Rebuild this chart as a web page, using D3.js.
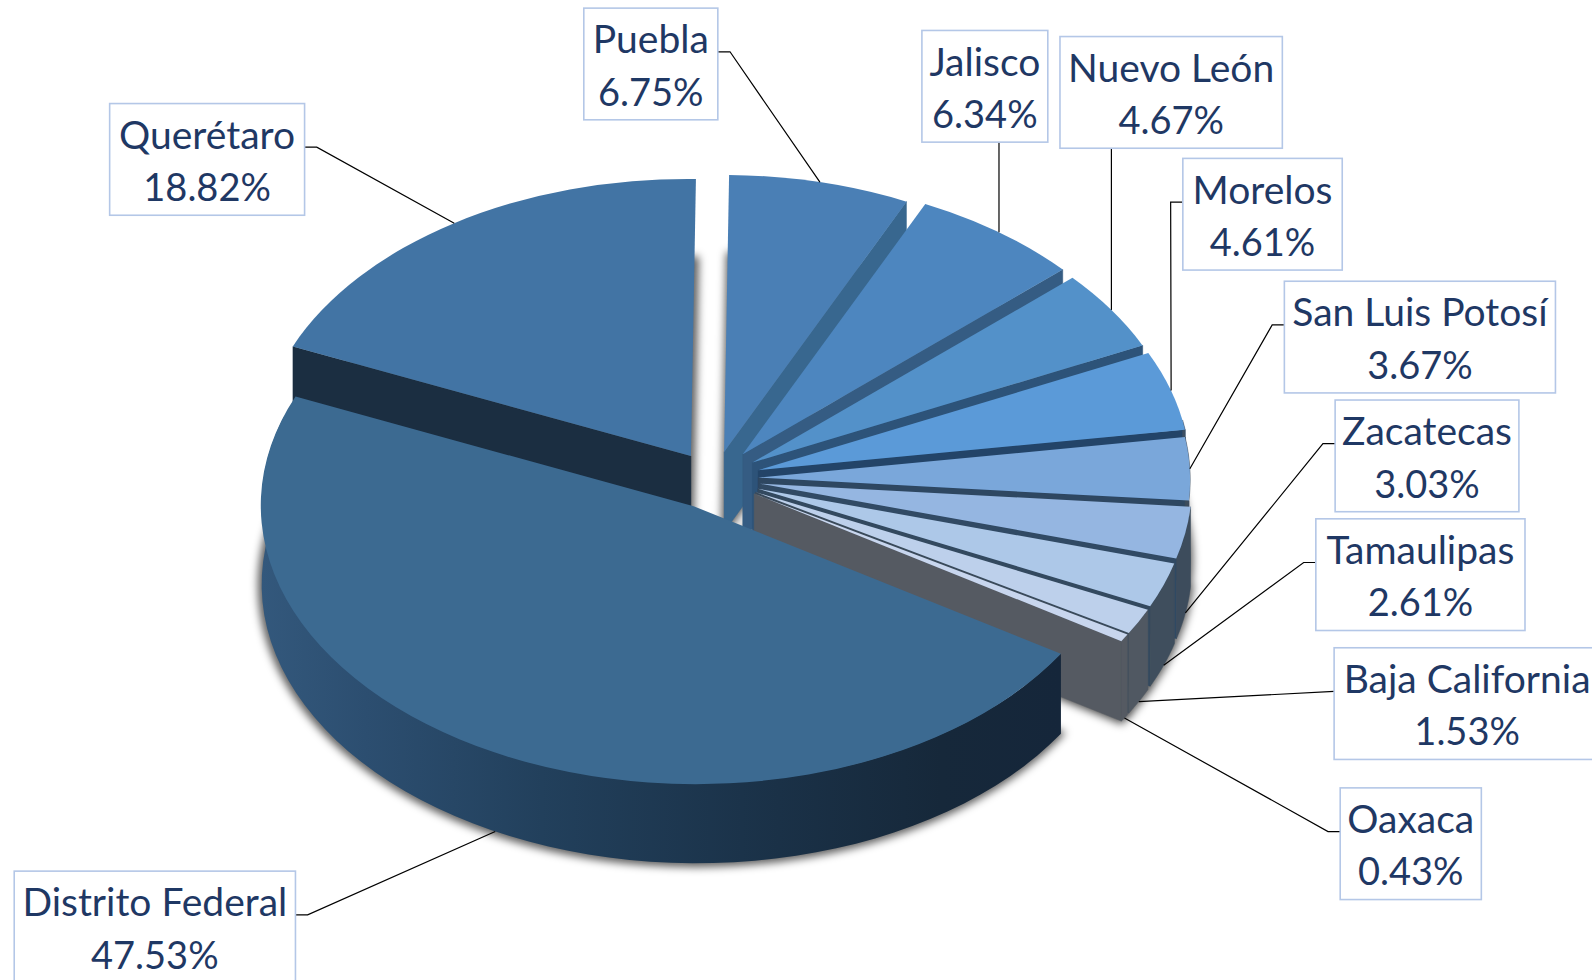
<!DOCTYPE html>
<html><head><meta charset="utf-8">
<script src="https://cdn.jsdelivr.net/npm/d3@7"></script>
<style>html,body{margin:0;background:#fff;overflow:hidden}svg{display:block}</style>
</head><body><svg id="c" width="1592" height="980"></svg>
<script>
// ---- data ----
const categories = ["Puebla","Jalisco","Nuevo León","Morelos","San Luis Potosí","Zacatecas","Tamaulipas","Baja California","Oaxaca","Distrito Federal","Querétaro"];
const shares = [6.75,6.34,4.67,4.61,3.67,3.03,2.61,1.53,0.43,47.53,18.82];
const explode = [0.10,0.11,0.105,0.105,0.10,0.105,0.105,0.105,0.105,0.11,0.10];
const topColors = ["#4a7fb5","#4d86bf","#5391c9","#5b9ad8","#7aa7da","#95b6e1","#adc8e8","#bdd0eb","#c8d6ee","#3c6a91","#4274a4"];
const sideColors = ["#38678f","#355c83","#2d5379","#234468","#2e4761","#314a64","#33495f","#3a4a5a","#555a62","#2a4a6c","#1b2e41"];
const rimColors = ["#3a6a92","#355c83","#2d5379","#3d4f62","#3d4c5c","#3d4c5c","#3f4e5d","#505862","#555a62","#2a4a6c","#1b2e41"];
// ---- layout (label boxes: left, top, right, bottom in the 1568-wide view; side the leader leaves from) ----
const k = 1592/1568;
const boxes = [[575,8,707,118,"r"],[908,30,1032,140,"b"],[1044,36,1263,146,"b"],[1165,156,1322,266,"l"],[1265,277,1532,387,"l"],[1315,394,1496,504,"l"],[1296,511,1502,621,"l"],[1314,638,1580,748,"n"],[1320,776,1459,886,"l"],[14,858,291,968,"r"],[108,102,300,212,"r"]];
const cx=715, cy=479, rx=432, ry=277, shX=-5, shY=5, depth=80;

const svg = d3.select("#c"), defs = svg.append("defs");
const blur = defs.append("filter").attr("id","sh").attr("x","-10%").attr("y","-10%").attr("width","120%").attr("height","120%");
blur.append("feGaussianBlur").attr("stdDeviation",4.5);
const grad = defs.append("linearGradient").attr("id","dfWall").attr("gradientUnits","userSpaceOnUse").attr("x1",262).attr("x2",1061).attr("y1",0).attr("y2",0);
[[0,"#33587c"],[0.13,"#2c4e70"],[0.35,"#22405c"],[0.6,"#1b334a"],[0.85,"#16283a"],[1,"#15263a"]].forEach(s=>grad.append("stop").attr("offset",s[0]).attr("stop-color",s[1]));

const slices = d3.pie().sort(null).startAngle(0).endAngle(2*Math.PI)(shares);
slices.forEach((s,i)=>{
  const mid=(s.startAngle+s.endAngle)/2, u=Math.sin(mid), v=-Math.cos(mid), e=explode[i];
  s.name=categories[i]; s.mid=mid; s.i=i;
  s.ax=cx+rx*e*u; s.ay=cy+ry*e*v;
});
const proj=(s,a,z)=>{const u=Math.sin(a),v=-Math.cos(a);return [s.ax+rx*u+shX*v, s.ay+ry*v+shY*u+z*depth];};
const line=d3.line();
const arc=d3.arc().innerRadius(0).outerRadius(1);
const tf=(s,z)=>`matrix(${rx},${shY},${shX},${ry},${s.ax},${s.ay+z*depth})`;

// shadow
const gs=svg.append("g").attr("filter","url(#sh)");
slices.forEach(s=>{
  gs.append("path").attr("d",arc(s)).attr("transform",tf(s,1)).attr("fill","#000").attr("fill-opacity",0.55)
    .attr("stroke","#000").attr("stroke-opacity",0.55).attr("stroke-width",6).attr("vector-effect","non-scaling-stroke");
});

// slices: back to front
const order=[0,1,2,3,4,5,6,7,8,10,9];
const gp=svg.append("g");
order.forEach(i=>{
  const s=slices[i];
  const A=[s.ax,s.ay], Ab=[s.ax,s.ay+depth];
  const edge=s.endAngle<Math.PI?s.endAngle:(s.startAngle>Math.PI?s.startAngle:null);
  if(edge!==null){
    gp.append("path").attr("d",line([A,proj(s,edge,0),proj(s,edge,1),Ab])+"Z").attr("fill",sideColors[i]).attr("stroke",sideColors[i]).attr("stroke-width",0.5);
  }
  const lo=Math.max(s.startAngle,Math.PI/2-0.2), hi=Math.min(s.endAngle,1.6*Math.PI);
  if(hi>lo){
    const as=d3.range(0,61).map(t=>lo+(hi-lo)*t/60);
    const pts=as.map(a=>proj(s,a,0)).concat(as.slice().reverse().map(a=>proj(s,a,1)));
    gp.append("path").attr("d",line(pts)+"Z").attr("fill",i===9?"url(#dfWall)":rimColors[i]).attr("stroke",i===9?"none":rimColors[i]).attr("stroke-width",0.5);
  }
  gp.append("path").attr("d",arc(s)).attr("transform",tf(s,0)).attr("fill",topColors[i]);
});

// leaders and labels
const gl=svg.append("g");
slices.forEach((s,i)=>{
  const b=boxes[i], x0=b[0]*k,y0=b[1]*k,x1=b[2]*k,y1=b[3]*k, side=b[4];
  const lower=-Math.cos(s.mid)>0.1;
  const end=proj(s,s.mid,lower?1:0);
  const ly=(y0+y1)/2-12*k;
  let pts;
  if(side==="l") pts=[[x0,ly],[x0-12*k,ly],end];
  else if(side==="r") pts=[[x1,ly],[x1+12*k,ly],end];
  else if(side==="b") pts=[[end[0],y1],end];
  else pts=[[x0,ly],end];
  gl.append("path").attr("d",line(pts)).attr("fill","none").attr("stroke","#000").attr("stroke-width",1.2);
  gl.append("rect").attr("x",x0).attr("y",y0).attr("width",x1-x0).attr("height",y1-y0)
    .attr("fill","#fff").attr("stroke","#b4c7e7").attr("stroke-width",1.6);
  const tx=i===7?1445*k:(x0+x1)/2, cyy=(y0+y1)/2;
  [s.name,d3.format(".2f")(shares[i])+"%"].forEach((t,j)=>{
    gl.append("text").attr("x",tx).attr("y",cyy+(j?28:-24)*k).attr("dy","0.35em")
      .attr("text-anchor","middle").attr("fill","#1f3864").attr("font-family","Lato, Carlito, sans-serif").attr("font-size",j?38:39).text(t);
  });
});
</script></body></html>
